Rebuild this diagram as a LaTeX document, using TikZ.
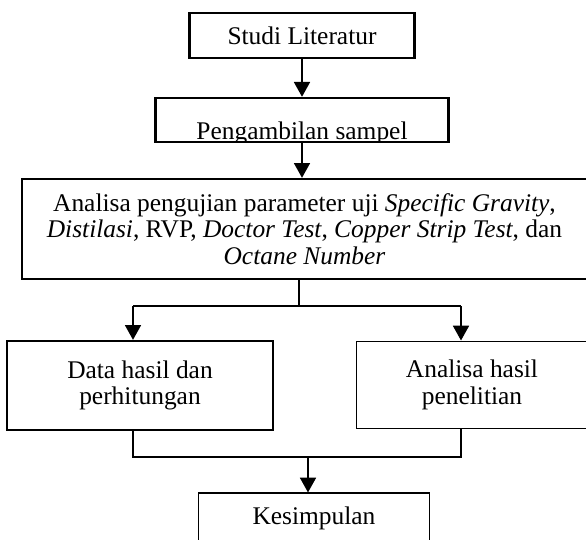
\documentclass[tikz,border=0pt]{standalone}
\usepackage{fontspec}
\setmainfont{Liberation Serif}
\usetikzlibrary{arrows.meta}

\begin{document}
\begin{tikzpicture}[x=0.472pt, y=-0.472pt,
    font=\fontsize{12}{12.5}\selectfont,
    boldbox/.style={draw, line width=1.1pt, align=center, inner sep=1pt},
    thinbox/.style={draw, line width=0.5pt, align=center, inner sep=1pt},
    flow/.style={line width=1pt, -{Triangle[width=7.5pt,length=7pt]}},
    link/.style={line width=0.5pt}]
        \useasboundingbox (0,0) rectangle (586,539);

        % Top steps
        \node[boldbox, minimum width=106.2pt, minimum height=21.2pt] (studi) at (302,35.5) {Studi Literatur};
        \node[boldbox, minimum width=138.3pt, minimum height=20.8pt,
              path picture={\node[anchor=base, inner sep=0pt] at ([yshift=-9.4pt]path picture bounding box.center) {Pengambilan sampel};}] (ambil) at (302,120) {};

        % Testing parameters
        \node[boldbox, minimum width=266.7pt, minimum height=47.2pt] (analisa) at (304.5,229)
            {Analisa pengujian parameter uji \textit{Specific Gravity},\\
             \textit{Distilasi}, RVP, \textit{Doctor Test}, \textit{Copper Strip Test}, dan\\
             \textit{Octane Number}};

        % Results
        \node[boldbox, minimum width=125.6pt, minimum height=42pt] (data) at (140,385.5) {Data hasil dan\\perhitungan};
        \node[thinbox, minimum width=108.6pt, minimum height=41.5pt] (hasil) at (472,385) {Analisa hasil\\penelitian};

        % Conclusion
        \node[thinbox, minimum width=108.6pt, minimum height=23.6pt] (kesim) at (314,518) {Kesimpulan};

        % Branch points
        \coordinate (split) at (299,306);
        \coordinate (splitL) at (133,306);
        \coordinate (splitR) at (461,306);
        \coordinate (joinL) at (133,457);
        \coordinate (joinR) at (461,457);
        \coordinate (join) at (308,457);

        % Arrows between steps
        \draw[flow] (studi) -- (ambil);
        \draw[flow] (ambil.south) -- (ambil.south |- analisa.north);
        \draw[link] (split |- analisa.south) -- (split);
        \draw[link] (splitL) -- (splitR);
        \draw[flow] (splitL) -- (splitL |- data.north);
        \draw[flow] (splitR) -- (splitR |- hasil.north);
        \draw[link] (joinL |- data.south) -- (joinL) -- (joinR) -- (joinR |- hasil.south);
        \draw[flow] (join) -- (join |- kesim.north);
\end{tikzpicture}
\end{document}
